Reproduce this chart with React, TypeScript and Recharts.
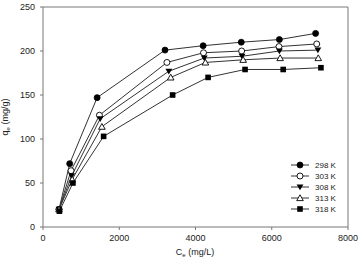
import React from 'react';
import { LineChart, Line, XAxis, YAxis, ReferenceLine } from 'recharts';

const seriesNames = ['298 K', '303 K', '308 K', '313 K', '318 K'];
const shapes = ['circle', 'openCircle', 'triangleDown', 'triangleUp', 'square'];

const x298 = [420, 700, 1420, 3200, 4200, 5200, 6200, 7150];
const y298 = [20, 72, 147, 201, 206, 210, 213, 220];
const x303 = [420, 735, 1480, 3250, 4210, 5210, 6190, 7180];
const y303 = [20, 64, 127, 187, 198, 200, 205, 208];
const x308 = [420, 750, 1500, 3300, 4230, 5220, 6200, 7210];
const y308 = [20, 58, 123, 177, 192, 194, 200, 201];
const x313 = [420, 765, 1545, 3350, 4260, 5250, 6220, 7220];
const y313 = [20, 54, 114, 170, 187, 190, 192, 192];
const x318 = [430, 785, 1590, 3400, 4330, 5300, 6300, 7290];
const y318 = [18, 50, 103, 150, 170, 179, 179, 181];

const xTicks = [0, 2000, 4000, 6000, 8000];
const yTicks = [0, 50, 100, 150, 200, 250];

const build = (xs: number[], ys: number[]) => xs.map((x, i) => ({ x, y: ys[i] }));
const seriesData = [
  build(x298, y298),
  build(x303, y303),
  build(x308, y308),
  build(x313, y313),
  build(x318, y318),
];

const FONT = '"Liberation Sans", Arial, sans-serif';

function Marker({ cx, cy, shape }: { cx: number; cy: number; shape: string }) {
  if (cx == null || cy == null) return null;
  switch (shape) {
    case 'circle':
      return <circle cx={cx} cy={cy} r={3} fill="#000" stroke="#000" strokeWidth={0.8} />;
    case 'openCircle':
      return <circle cx={cx} cy={cy} r={3} fill="#fff" stroke="#000" strokeWidth={0.9} />;
    case 'triangleDown':
      return (
        <polygon
          points={`${cx - 3.4},${cy - 2.6} ${cx + 3.4},${cy - 2.6} ${cx},${cy + 3.2}`}
          fill="#000"
        />
      );
    case 'triangleUp':
      return (
        <polygon
          points={`${cx - 3.3},${cy + 2.6} ${cx + 3.3},${cy + 2.6} ${cx},${cy - 3.2}`}
          fill="#fff"
          stroke="#000"
          strokeWidth={0.9}
        />
      );
    default:
      return <rect x={cx - 2.8} y={cy - 2.8} width={5.6} height={5.6} fill="#000" />;
  }
}

const LegendBox = () => (
  <svg width={60} height={60} style={{ position: 'absolute', left: 290, top: 160 }}>
    {seriesNames.map((name, i) => {
      const y = 5 + i * 11;
      return (
        <g key={name}>
          <line x1={1} x2={19} y1={y} y2={y} stroke="#333" strokeWidth={1} />
          <Marker cx={10} cy={y} shape={shapes[i]} />
          <text x={25} y={y + 3} fontSize={8} fontFamily={FONT} fill="#222">
            {name}
          </text>
        </g>
      );
    })}
  </svg>
);

export default function App() {
  return (
    <div style={{ position: 'absolute', left: 0, top: 0, width: 360, height: 259, background: '#fff' }}>
      <LineChart width={360} height={259} margin={{ top: 7, right: 12, left: 1, bottom: 0 }}>
        <XAxis
          type="number"
          dataKey="x"
          domain={[0, 8000]}
          ticks={xTicks}
          allowDuplicatedCategory={false}
          height={32}
          tickSize={3}
          tickMargin={5}
          stroke="#777"
          tick={{ fontSize: 9, fontFamily: FONT, fill: '#222' }}
          label={{
            content: () => (
              <text x={195} y={255} textAnchor="middle" fontSize={9} fontFamily={FONT} fill="#222">
                C<tspan fontSize={6} dy={2}>e</tspan>
                <tspan dy={-2}> (mg/L)</tspan>
              </text>
            ),
          }}
        />
        <YAxis
          type="number"
          dataKey="y"
          domain={[0, 250]}
          ticks={yTicks}
          width={42}
          tickSize={3}
          tickMargin={5}
          stroke="#777"
          tick={{ fontSize: 9, fontFamily: FONT, fill: '#222' }}
          label={{
            content: () => (
              <text
                x={8}
                y={117}
                transform="rotate(-90 8 117)"
                textAnchor="middle"
                fontSize={9}
                fontFamily={FONT}
                fill="#222"
              >
                q<tspan fontSize={6} dy={2}>e</tspan>
                <tspan dy={-2}> (mg/g)</tspan>
              </text>
            ),
          }}
        />
        <ReferenceLine y={250} stroke="#777" strokeWidth={1} ifOverflow="extendDomain" />
        <ReferenceLine x={8000} stroke="#777" strokeWidth={1} ifOverflow="extendDomain" />
        {seriesData.map((d, i) => (
          <Line
            key={seriesNames[i]}
            data={d}
            dataKey="y"
            name={seriesNames[i]}
            type="linear"
            stroke="#333"
            strokeWidth={1}
            isAnimationActive={false}
            dot={(p: any) => <Marker key={`${i}-${p.index}`} cx={p.cx} cy={p.cy} shape={shapes[i]} />}
            activeDot={false}
          />
        ))}
      </LineChart>
      <LegendBox />
    </div>
  );
}
